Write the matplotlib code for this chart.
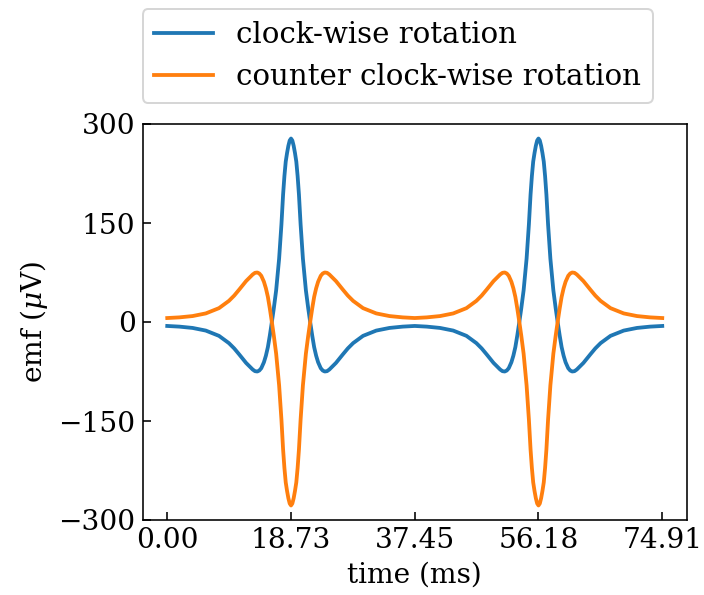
import matplotlib
matplotlib.use('Agg')
import matplotlib.pyplot as plt

# tempo (ms) e emf (uV)
time_ms = [0.00, 1.83, 3.83, 5.83, 7.83, 9.33, 10.13, 10.88, 11.93, 12.93,
           13.28, 13.63, 13.93, 14.23, 14.63, 14.93, 15.23, 15.53, 15.83, 16.13,
           16.48, 16.93, 17.28, 17.53, 17.73, 17.93, 18.13, 18.33, 18.53, 18.73,
           18.93, 19.13, 19.33, 19.53, 19.73, 19.93, 20.18, 20.53, 20.98, 21.33,
           21.63, 21.93, 22.23, 22.53, 22.83, 23.23, 23.53, 23.83, 24.18, 24.53,
           25.53, 26.58, 27.33, 28.13, 29.63, 31.63, 33.63, 35.63, 37.45,
           39.28, 41.28, 43.28, 45.28, 46.78, 47.58, 48.33, 49.38, 50.38,
           50.73, 51.08, 51.38, 51.68, 52.08, 52.38, 52.68, 52.98, 53.28, 53.58,
           53.93, 54.38, 54.73, 54.98, 55.18, 55.38, 55.58, 55.78, 55.98, 56.18,
           56.38, 56.58, 56.78, 56.98, 57.18, 57.38, 57.63, 57.98, 58.43, 58.78,
           59.08, 59.38, 59.68, 59.98, 60.28, 60.68, 60.98, 61.28, 61.63, 61.98,
           62.98, 64.03, 64.78, 65.58, 67.08, 69.08, 71.08, 73.08, 74.91]

emf_cw = [-6, -7, -9, -13, -21, -32, -40, -49, -62, -72,
          -74.5, -75, -73.5, -70, -61, -51, -38, -20, 0, 21,
          48, 96, 148, 193, 221, 243, 256, 267, 275, 278,
          275, 267, 256, 243, 221, 193, 148, 96, 48, 21,
          0, -20, -38, -51, -61, -70, -73.5, -75, -74.5, -72,
          -62, -49, -40, -32, -21, -13, -9, -7, -6,
          -7, -9, -13, -21, -32, -40, -49, -62, -72,
          -74.5, -75, -73.5, -70, -61, -51, -38, -20, 0, 21,
          48, 96, 148, 193, 221, 243, 256, 267, 275, 278,
          275, 267, 256, 243, 221, 193, 148, 96, 48, 21,
          0, -20, -38, -51, -61, -70, -73.5, -75, -74.5, -72,
          -62, -49, -40, -32, -21, -13, -9, -7, -6]

emf_ccw = [6, 7, 9, 13, 21, 32, 40, 49, 62, 72,
           74.5, 75, 73.5, 70, 61, 51, 38, 20, 0, -21,
           -48, -96, -148, -193, -221, -243, -256, -267, -275, -278,
           -275, -267, -256, -243, -221, -193, -148, -96, -48, -21,
           0, 20, 38, 51, 61, 70, 73.5, 75, 74.5, 72,
           62, 49, 40, 32, 21, 13, 9, 7, 6,
           7, 9, 13, 21, 32, 40, 49, 62, 72,
           74.5, 75, 73.5, 70, 61, 51, 38, 20, 0, -21,
           -48, -96, -148, -193, -221, -243, -256, -267, -275, -278,
           -275, -267, -256, -243, -221, -193, -148, -96, -48, -21,
           0, 20, 38, 51, 61, 70, 73.5, 75, 74.5, 72,
           62, 49, 40, 32, 21, 13, 9, 7, 6]

xticks = [0.00, 18.73, 37.45, 56.18, 74.91]
yticks = [-300, -150, 0, 150, 300]

plt.rcParams['font.family'] = 'DejaVu Serif'
plt.rcParams['mathtext.fontset'] = 'dejavuserif'
plt.rcParams['font.size'] = 14

fig = plt.figure(figsize=(704 / 144, 595 / 144), dpi=144)
ax = fig.add_axes([142.5 / 704, 1 - 520 / 595, 544.5 / 704, 396 / 595])

ax.plot(time_ms, emf_cw, color='tab:blue', linewidth=1.9, label='clock-wise rotation')
ax.plot(time_ms, emf_ccw, color='tab:orange', linewidth=1.9, label='counter clock-wise rotation')

ax.set_xticks(xticks)
ax.set_xticklabels(['%.2f' % v for v in xticks])
ax.set_yticks(yticks)
ax.set_ylim(-300, 300)
ax.tick_params(direction='in', length=4)

ax.set_xlabel('time (ms)')
ax.set_ylabel(r'emf ($\mu$V)')

ax.legend(loc='lower left', bbox_to_anchor=(0.0, 1.053), borderaxespad=0,
          fontsize=14.6)

fig.savefig('out.png', dpi=144)
